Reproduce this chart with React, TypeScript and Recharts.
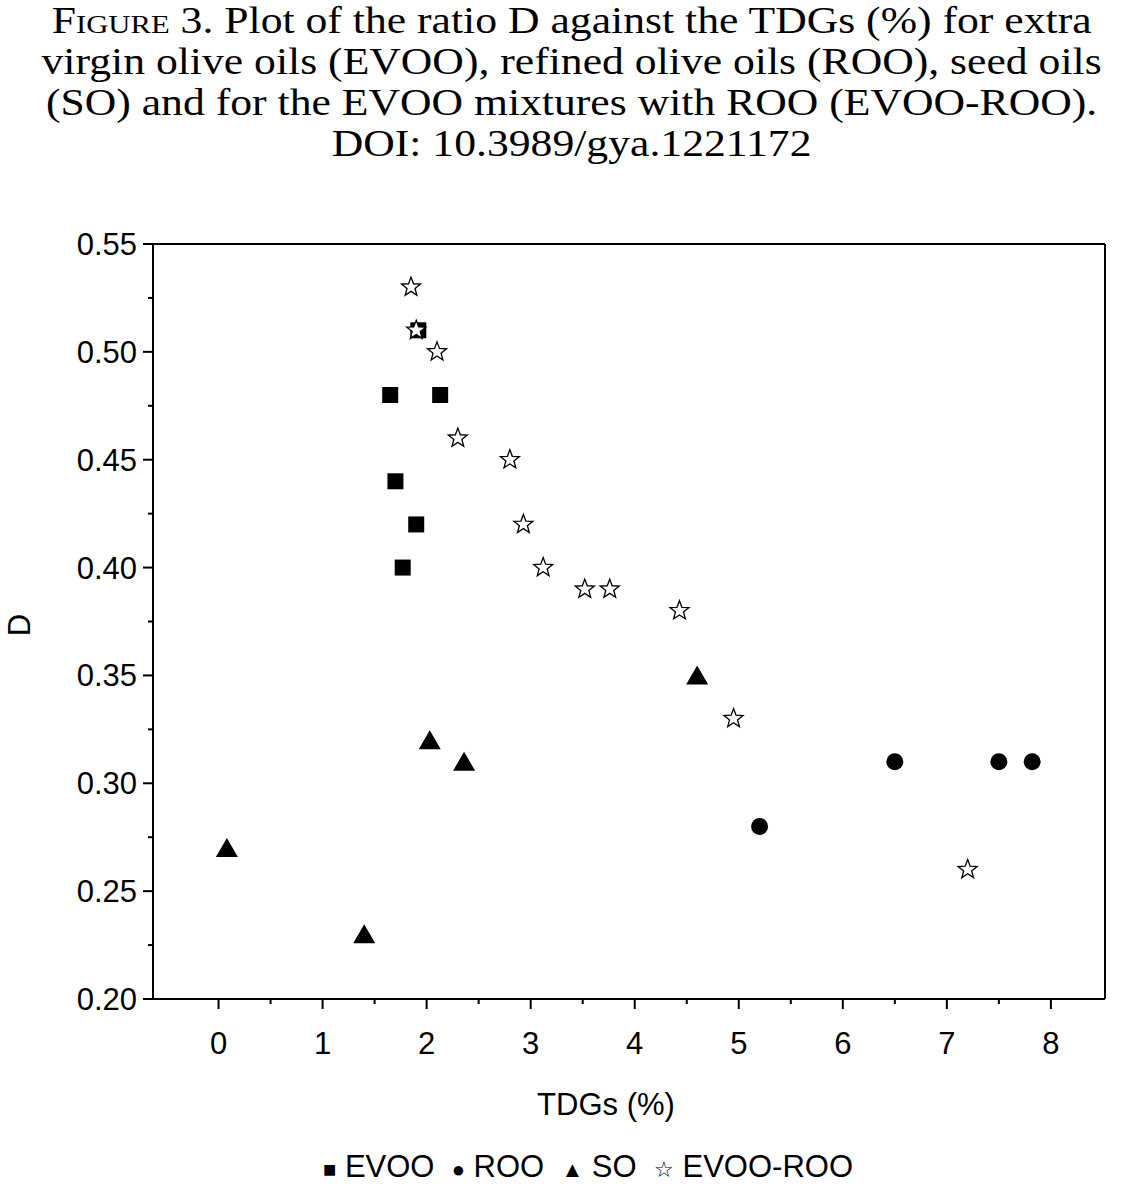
import React from "react";
import { ScatterChart, Scatter, XAxis, YAxis, ReferenceLine } from "recharts";

const evoo = [
  { x: 1.92, y: 0.51 }, { x: 1.65, y: 0.48 }, { x: 2.13, y: 0.48 },
  { x: 1.7, y: 0.44 }, { x: 1.9, y: 0.42 }, { x: 1.77, y: 0.4 },
];
const roo = [
  { x: 5.2, y: 0.28 }, { x: 6.5, y: 0.31 }, { x: 7.5, y: 0.31 }, { x: 7.82, y: 0.31 },
];
const so = [
  { x: 0.08, y: 0.27 }, { x: 1.4, y: 0.23 }, { x: 2.03, y: 0.32 }, { x: 2.36, y: 0.31 }, { x: 4.6, y: 0.35 },
];
const evooRoo = [
  { x: 1.85, y: 0.53 }, { x: 1.9, y: 0.51 }, { x: 2.1, y: 0.5 }, { x: 2.3, y: 0.46 },
  { x: 2.8, y: 0.45 }, { x: 2.93, y: 0.42 }, { x: 3.12, y: 0.4 }, { x: 3.52, y: 0.39 },
  { x: 3.76, y: 0.39 }, { x: 4.43, y: 0.38 }, { x: 4.95, y: 0.33 }, { x: 7.2, y: 0.26 },
];
const xTicks = [0, 0.5, 1, 1.5, 2, 2.5, 3, 3.5, 4, 4.5, 5, 5.5, 6, 6.5, 7, 7.5, 8];
const yTicks = [0.2, 0.225, 0.25, 0.275, 0.3, 0.325, 0.35, 0.375, 0.4, 0.425, 0.45, 0.475, 0.5, 0.525, 0.55];

const FONT = '"Liberation Sans", Arial, sans-serif';

const Square = (p: any) => <rect x={p.cx - 8} y={p.cy - 8} width={16} height={16} fill="#000" />;
const Circle = (p: any) => <circle cx={p.cx} cy={p.cy} r={8.5} fill="#000" />;
const Tri = (p: any) => (
  <polygon points={`${p.cx},${p.cy - 10} ${p.cx + 11},${p.cy + 9} ${p.cx - 11},${p.cy + 9}`} fill="#000" />
);
const Star = (p: any) => {
  const pts: string[] = [];
  for (let i = 0; i < 10; i++) {
    const r = i % 2 === 0 ? 10 : 4.2;
    const a = -Math.PI / 2 + (i * Math.PI) / 5;
    pts.push(`${p.cx + r * Math.cos(a)},${p.cy + r * Math.sin(a)}`);
  }
  return <polygon points={pts.join(" ")} fill="#fff" stroke="#000" strokeWidth={1.3} />;
};

const XTick = (p: any) => {
  const v = p.payload.value;
  const major = Number.isInteger(v);
  return (
    <g>
      <line x1={p.x} x2={p.x} y1={p.y} y2={p.y + (major ? 10 : 5)} stroke="#000" strokeWidth={2} />
      {major && (
        <text x={p.x} y={p.y + 55} textAnchor="middle" fontSize={31} fontFamily={FONT} fill="#000">{v}</text>
      )}
    </g>
  );
};
const YTick = (p: any) => {
  const v = p.payload.value;
  const major = Math.abs(Math.round(v * 20) - v * 20) < 1e-6;
  return (
    <g>
      <line x1={p.x} x2={p.x - (major ? 10 : 5)} y1={p.y} y2={p.y} stroke="#000" strokeWidth={2} />
      {major && (
        <text x={p.x - 16} y={p.y + 11} textAnchor="end" fontSize={31} fontFamily={FONT} fill="#000">{v.toFixed(2)}</text>
      )}
    </g>
  );
};

export default function App() {
  return (
    <div style={{ position: "absolute", left: 0, top: 0, width: 1143, height: 1188, background: "#fff", overflow: "hidden" }}>
      <div style={{ position: "absolute", top: 0, left: 0, width: 1143, textAlign: "center", fontFamily: '"Liberation Serif", "Times New Roman", serif', fontSize: 37, lineHeight: "41px", color: "#000", transform: "scaleX(1.18)", transformOrigin: "571px 0" }}>
        <span style={{ fontVariant: "small-caps" }}>Figure</span> 3. Plot of the ratio D against the TDGs (%) for extra<br />
        virgin olive oils (EVOO), refined olive oils (ROO), seed oils<br />
        (SO) and for the EVOO mixtures with ROO (EVOO-ROO).<br />
        DOI: 10.3989/gya.1221172
      </div>
      <div style={{ position: "absolute", top: 0, left: 0 }}>
        <ScatterChart width={1143} height={1188} margin={{ top: 244, left: 73, right: 38, bottom: 129 }}>
          <XAxis xAxisId="b" type="number" dataKey="x" domain={[-0.63, 8.52]} ticks={xTicks} interval={0}
            axisLine={{ stroke: "#000", strokeWidth: 2 }} tickLine={false} tickSize={0} tickMargin={0} tick={<XTick />} height={60} />
          <YAxis yAxisId="l" type="number" dataKey="y" domain={[0.2, 0.55]} ticks={yTicks} interval={0}
            axisLine={{ stroke: "#000", strokeWidth: 2 }} tickLine={false} tickSize={0} tickMargin={0} tick={<YTick />} width={80} />
          <ReferenceLine xAxisId="b" yAxisId="l" y={0.55} stroke="#000" strokeWidth={2} />
          <ReferenceLine xAxisId="b" yAxisId="l" x={8.52} stroke="#000" strokeWidth={2} />
          <Scatter xAxisId="b" yAxisId="l" data={evoo} shape={Square} isAnimationActive={false} />
          <Scatter xAxisId="b" yAxisId="l" data={roo} shape={Circle} isAnimationActive={false} />
          <Scatter xAxisId="b" yAxisId="l" data={so} shape={Tri} isAnimationActive={false} />
          <Scatter xAxisId="b" yAxisId="l" data={evooRoo} shape={Star} isAnimationActive={false} />
        </ScatterChart>
      </div>
      <div style={{ position: "absolute", left: 20, top: 625, transform: "translate(-50%,-50%) rotate(-90deg)", fontFamily: FONT, fontSize: 31 }}>D</div>
      <div style={{ position: "absolute", left: 0, width: 1212, top: 1087, textAlign: "center", fontFamily: FONT, fontSize: 31 }}>TDGs (%)</div>
      <div style={{ position: "absolute", left: 0, width: 1176, top: 1149, textAlign: "center", fontFamily: FONT, fontSize: 31, whiteSpace: "pre" }}>
        <span style={{ fontSize: 22 }}>■</span> EVOO  <span style={{ fontSize: 22 }}>●</span> ROO  <span style={{ fontSize: 22 }}>▲</span> SO  <span style={{ fontSize: 22 }}>☆</span> EVOO-ROO
      </div>
    </div>
  );
}
